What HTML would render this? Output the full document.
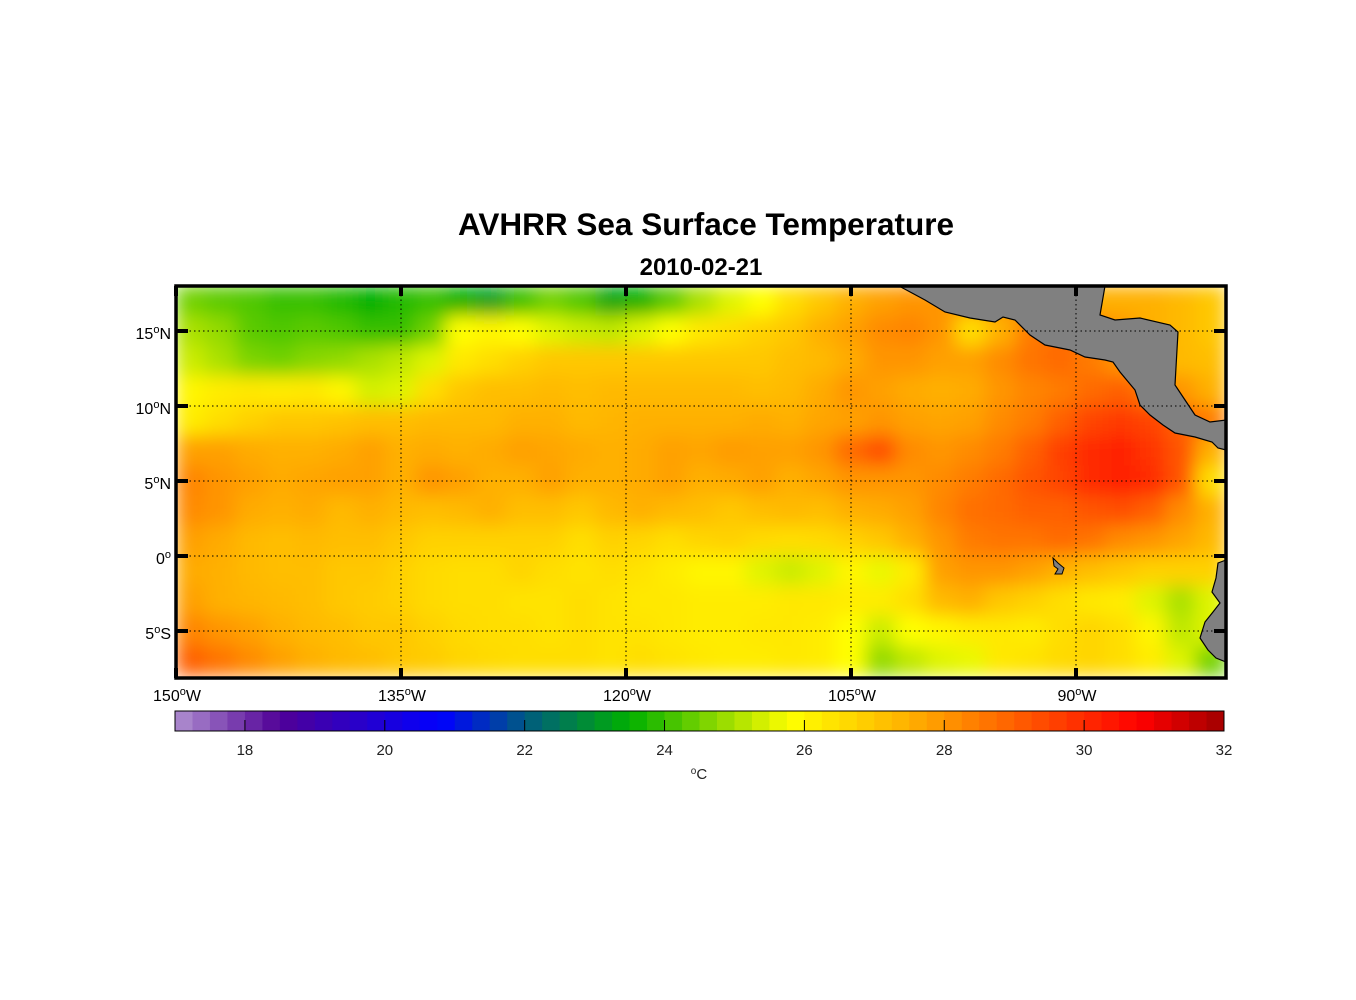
<!DOCTYPE html>
<html><head><meta charset="utf-8"><style>
body{margin:0;background:#fff;}
svg{display:block;font-family:"Liberation Sans",Arial,sans-serif;}
</style></head><body>
<svg id="chart" width="1356" height="1000">
<defs>
<filter id="blur" filterUnits="userSpaceOnUse" x="176" y="286" width="1050" height="392">
<feGaussianBlur stdDeviation="9" edgeMode="duplicate"/>
</filter>
<clipPath id="clip"><rect x="176" y="286" width="1050" height="392"/></clipPath>
</defs>
<text x="706" y="235" text-anchor="middle" font-size="31.5" font-weight="bold">AVHRR Sea Surface Temperature</text>
<text x="701" y="275" text-anchor="middle" font-size="24" font-weight="bold">2010-02-21</text>
<g clip-path="url(#clip)"><g id="cells" filter="url(#blur)"></g></g>
<g id="land">
<polygon fill="#808080" stroke="#000" stroke-width="1.2" points="899,286 925,300 945,312 970,318 995,322 1003,317 1015,320 1030,335 1045,345 1070,350 1085,357 1105,360 1113,362 1120,372 1135,390 1140,405 1150,415 1163,425 1175,433 1195,437 1212,442 1218,448 1226,450 1226,420 1210,422 1195,415 1185,400 1175,385 1178,332 1170,325 1140,318 1115,320 1100,315 1105,286"/>
<polygon fill="#808080" stroke="#000" stroke-width="1.2" points="1226,560 1218,563 1216,578 1212,592 1220,603 1213,612 1205,622 1200,638 1208,650 1216,658 1226,662"/>
<polygon fill="#808080" stroke="#000" stroke-width="1" points="1053,558 1058,563 1064,568 1062,574 1055,574 1058,569 1054,566"/>
</g>
<g id="grid" stroke="#000" stroke-width="1" stroke-dasharray="1.5,3"></g>
<rect x="176" y="286" width="1050" height="392" fill="none" stroke="#000" stroke-width="3.5"/>
<g id="ticks"></g>
<g id="cbar"></g>
</svg>
<script>
const lonCenters=[149,147,145,143,141,139,137,135,133,131,129,127,125,123,121,119,117,115,113,111,109,107,105,103,101,99,97,95,93,91,89,87,85,83,81];
const latCenters=[17,15,13,11,9,7,5,3,1,-1,-3,-5,-7];
const row17=[24.5,24.3,24.2,24.0,24.0,23.8,23.5,23.8,24.0,23.5,23.2,24.0,24.5,24.2,23.3,23.5,24.3,25,25.5,25.8,26.5,27,27.5,27.8,28,28,28,28,28,28,27.5,27.5,27.5,27.3,27];
const row15=[25,24.8,24.3,24.2,24.3,24.2,24,24,24.5,25.8,26,25.8,25.5,25.3,25.2,25.5,25.8,26.3,26.5,26.8,27,27.5,27.8,28.2,28.3,28,26.5,27.5,28.5,28.8,28.5,28,27.5,27.3,27];
const row13=[25.3,25,24.6,24.5,24.7,24.8,25,25.2,25.5,26.3,26.5,26.8,27,27,27,27,27,27,27,27,27.2,27.3,27.6,28,28,27.8,27.8,28.2,28.6,28.8,28.5,28,27.5,27.3,27.2];
const row11=[26,26.2,26.3,26.2,26.3,26,25.4,25.5,26.5,27,27.2,27.2,27.3,27.2,27.3,27.3,27.3,27.3,27.3,27.2,27.3,27.6,28,27.8,27.6,27.5,27.6,28,28.3,28.5,28.8,29,28.5,28,27.5];
const row9=[26.2,26.5,26.8,27,27,27.1,27.2,27.2,27.3,27.3,27.3,27.5,27.5,27.3,27.4,27.5,27.5,27.5,27.5,27.6,27.5,27.7,27.8,28,27.8,27.7,27.8,28.2,28.5,29,29.5,29.7,29.5,29,28.5];
const row7=[27.8,27.8,27.6,27.5,27.5,27.6,27.8,27.5,27.6,27.5,27.6,27.8,27.7,27.6,27.5,27.6,27.8,27.7,27.9,27.8,27.8,28,28.8,29.3,28.2,28,28.2,28.5,29,29.6,30,30.2,29.8,29.2,27.5];
const row5=[28.3,28,27.8,27.6,27.7,27.8,27.8,27.5,28,27.8,27.5,27.5,27.8,27.5,27.5,27.6,27.8,27.5,27.6,27.8,27.5,27.7,28,28,28,28.2,28.5,28.8,29.2,29.5,30,30.2,30,29.2,26.5];
const row3=[28.2,28,27.6,27.5,27.6,27.3,27.5,27.3,27.2,27.3,27.5,27.2,27.2,27,27.3,27.5,27.3,27.2,27,27.2,27.3,27.2,27.5,27.6,27.8,28.3,28.7,28.8,29,29,29.2,29.3,29,28.2,27.5];
const row1=[27.8,27.6,27.3,27.2,27.3,27.2,27.2,27,26.8,26.8,26.8,26.8,26.8,26.5,26.8,26.7,26.5,26.7,26.8,26.6,26.5,26.6,26.8,27,27.5,28,28.5,28.6,28.6,28.8,28.6,28.2,28,27.7,27.3];
const rowM1=[27.6,27.5,27.3,27.2,27.2,27,27,26.8,26.6,26.5,26.5,26.7,26.5,26.4,26.5,26.4,26.2,26,26,25.5,25.3,25.5,26,25.6,26.2,27.8,28,28,27.8,27.5,27.2,27,26.8,26.8,26.8];
const rowM3=[27.8,27.5,27.4,27.3,27.2,27,26.9,26.8,26.6,26.5,26.5,26.4,26.4,26.5,26.4,26.3,26.3,26.2,26.2,26.2,26.3,26.3,26.2,26.2,26.5,27.3,27.5,27,26.8,26.5,26.3,26.2,25.5,25,25.5];
const rowM5=[28.3,28,27.8,27.5,27.3,27.2,27,27,26.8,26.6,26.5,26.5,26.4,26.5,26.4,26.4,26.3,26.2,26.2,26.3,26.3,26.2,25.8,25.3,25.8,26,26.2,26.3,26.2,26.5,26.7,26.5,26,25.2,25.5];
const rowM7=[29,28.6,28.2,27.8,27.5,27.3,27.2,27,26.9,26.7,26.6,26.5,26.5,26.5,26.4,26.5,26.4,26.3,26.2,26.2,26.3,26.2,25.8,24.8,25.2,25.5,25.6,26.3,26.4,26.6,26.7,26.5,26.2,25.5,24.5];
const sstRows=[row17,row15,row13,row11,row9,row7,row5,row3,row1,rowM1,rowM3,rowM5,rowM7];
const lonTicks=[150,135,120,105,90];
const latTicks=[15,10,5,0,-5];
const cbarTicks=[18,20,22,24,26,28,30,32];
const cmapStops=[[17,[176,144,208]],[18.5,[80,0,150]],[20.8,[0,0,255]],[22,[0,90,130]],[23.5,[0,176,0]],[25,[170,225,0]],[25.8,[255,255,0]],[27.5,[255,176,0]],[29,[255,96,0]],[30.8,[255,0,0]],[32,[160,0,0]]];
const NS='http://www.w3.org/2000/svg';
const X0=176,Y0=286,PX=15;
const xOf=lonW=>X0+(150-lonW)*PX;
const yOf=lat=>Y0+(18-lat)*PX;
const cbX=v=>175+(v-17)*(1049/15);
function color(v){
  if(v<=cmapStops[0][0])return 'rgb('+cmapStops[0][1]+')';
  for(let i=1;i<cmapStops.length;i++){
    const [a,ca]=cmapStops[i-1],[b,cb]=cmapStops[i];
    if(v<=b){const t=(v-a)/(b-a);return 'rgb('+ca.map((c,k)=>Math.round(c+(cb[k]-c)*t)).join(',')+')';}
  }
  return 'rgb('+cmapStops[cmapStops.length-1][1]+')';
}
function mk(tag,attrs,parent){const e=document.createElementNS(NS,tag);for(const k in attrs)e.setAttribute(k,attrs[k]);parent.appendChild(e);return e;}
const cells=document.getElementById('cells');
sstRows.forEach((row,r)=>{row.forEach((v,c)=>{
  const e=mk('rect',{x:xOf(lonCenters[c]+1)-0.5,y:yOf(latCenters[r]+1)-0.5,width:2*PX+1,height:2*PX+1,fill:color(v)},cells);
  
  
});});
const grid=document.getElementById('grid'),ticks=document.getElementById('ticks');
lonTicks.forEach(l=>{
  const x=xOf(l);
  if(l!==150){const g=mk('line',{x1:x,y1:286,x2:x,y2:678},grid);}
  mk('line',{x1:x,y1:286,x2:x,y2:296,stroke:'#000','stroke-width':4},ticks);
  mk('line',{x1:x,y1:668,x2:x,y2:678,stroke:'#000','stroke-width':4},ticks);
  const t=mk('text',{x:x+1,y:701,'text-anchor':'middle','font-size':16},ticks);
  
  t.innerHTML=l+'<tspan dy="-6" font-size="11">o</tspan><tspan dy="6">W</tspan>';
});
latTicks.forEach(l=>{
  const y=yOf(l);
  const g=mk('line',{x1:176,y1:y,x2:1226,y2:y},grid);
  mk('line',{x1:176,y1:y,x2:188,y2:y,stroke:'#000','stroke-width':4},ticks);
  mk('line',{x1:1214,y1:y,x2:1226,y2:y,stroke:'#000','stroke-width':4},ticks);
  const t=mk('text',{x:171,y:y+8,'text-anchor':'end','font-size':16},ticks);
  
  const h=l>0?'N':(l<0?'S':'');
  t.innerHTML=Math.abs(l)+'<tspan dy="-6" font-size="11">o</tspan><tspan dy="6">'+h+'</tspan>';
});
const cbar=document.getElementById('cbar');
for(let v=17;v<32;v+=0.25){
  const e=mk('rect',{x:cbX(v),y:711,width:cbX(v+0.25)-cbX(v)+0.5,height:20,fill:color(v+0.125)},cbar);
  
}
mk('rect',{x:175,y:711,width:1049,height:20,fill:'none',stroke:'#000','stroke-width':1},cbar);
cbarTicks.forEach(v=>{
  const x=cbX(v);
  mk('line',{x1:x,y1:720,x2:x,y2:731,stroke:'#000','stroke-width':1},cbar);
  const t=mk('text',{x:x,y:755,'text-anchor':'middle','font-size':15,fill:'#222'},cbar);
  
  t.textContent=v;
});
const u=mk('text',{x:699,y:779,'text-anchor':'middle','font-size':15,fill:'#222'},cbar);

u.innerHTML='<tspan font-size="10" dy="-5">o</tspan><tspan dy="5">C</tspan>';
</script>
</body></html>
